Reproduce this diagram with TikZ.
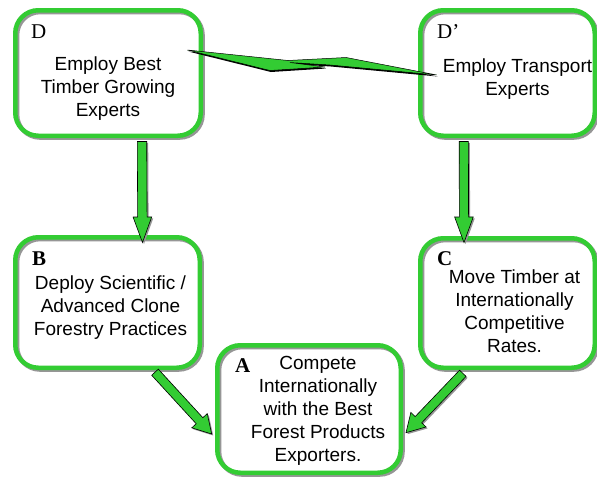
\documentclass[tikz,border=0pt]{standalone}
\usepackage{fontspec}
\setmainfont{Liberation Sans}
\newfontfamily\letterfont{Liberation Serif}
\usetikzlibrary{calc}

\definecolor{leafgreen}{RGB}{51,204,51}
\definecolor{shadegray}{RGB}{150,150,150}

\tikzset{
  boxbody/.style={fill=white, rounded corners=23pt, inner sep=0pt, outer sep=0pt},
  boxshade/.style={draw=shadegray, line width=4.5pt, rounded corners=23pt},
  boxedge/.style={draw=leafgreen, line width=4.5pt, rounded corners=23pt},
  % multi-line texts are anchored at the baseline of their last line
  boxtext/.style={font=\fontsize{19pt}{23pt}\selectfont, align=center, anchor=base, inner sep=0pt},
  lettertag/.style={font=\letterfont\fontsize{21pt}{21pt}\selectfont, anchor=base west, inner sep=0pt},
  boldtag/.style={font=\letterfont\bfseries\fontsize{21pt}{21pt}\selectfont, anchor=base west, inner sep=0pt},
  arrowbody/.style={fill=leafgreen, draw=black, line width=0.6pt, line join=miter},
  arrowshade/.style={fill=shadegray},
  boltbody/.style={fill=leafgreen, draw=black, line width=0.5pt, line join=miter},
}

% rounded box: white body, offset grey shade, green rim
\newcommand\roundbox[4]{% name, centre, width, height
  \node[boxbody, minimum width=#3, minimum height=#4] (#1) at (#2) {};
  \draw[boxshade] ([shift={(1.8pt,-1.8pt)}]#1.north west) rectangle ([shift={(1.8pt,-1.8pt)}]#1.south east);
  \draw[boxedge] (#1.north west) rectangle (#1.south east);
}

% block arrow polygon from #1 to tip #2; shaft half width #3, head half width #4, head length #5
\newcommand\arrowoutline[5]{%
  ($(#1)!#3!90:(#2)$) -- ($($(#2)!#5!(#1)$)!#3!90:(#2)$) -- ($($(#2)!#5!(#1)$)!#4!90:(#2)$) --
  (#2) -- ($($(#2)!#5!(#1)$)!#4!-90:(#2)$) -- ($($(#2)!#5!(#1)$)!#3!-90:(#2)$) --
  ($(#1)!#3!-90:(#2)$) -- cycle}
\newcommand\blockarrow[5]{%
  \begin{scope}[transform canvas={shift={(1.5pt,-1.5pt)}}]
    \fill[arrowshade] \arrowoutline{#1}{#2}{#3}{#4}{#5};
  \end{scope}
  \draw[arrowbody] \arrowoutline{#1}{#2}{#3}{#4}{#5};
}

\begin{document}
\begin{tikzpicture}[x=1pt, y=-1pt]
  \useasboundingbox (0,0) rectangle (597,479);
  \fill[white] (0,0) rectangle (597,479);

  % boxes
  \roundbox{D}{108,73}{185.5pt}{125.5pt}
  \roundbox{Dp}{507.5,73}{174.5pt}{125.5pt}
  \roundbox{B}{107.5,302.5}{184.5pt}{130.5pt}
  \roundbox{C}{507.5,303}{174.5pt}{129.5pt}
  \roundbox{A}{309,409}{183.5pt}{127.5pt}

  % letters
  \node[lettertag] (Dtag) at (31,38) {D};
  \node[lettertag] (Dptag) at (437,38) {D’};
  \node[boldtag] (Btag) at (32,265) {B};
  \node[boldtag] (Ctag) at (437,265) {C};
  \node[boldtag] (Atag) at (235,372) {A};

  % texts
  \node[boxtext] (Dtext) at (108,116) {Employ Best\\Timber Growing\\Experts};
  \node[boxtext] (Dptext) at (517.5,95.5) {Employ Transport\\Experts};
  \node[boxtext] (Btext) at (110.5,335) {Deploy Scientific /\\Advanced Clone\\Forestry Practices};
  \node[boxtext] (Ctext) at (514.5,352) {Move Timber at\\Internationally\\Competitive\\Rates.};
  \node[boxtext] (Atext) at (318,461) {Compete\\Internationally\\with the Best\\Forest Products\\Exporters.};

  % arrow ends
  \coordinate (DB1) at (142,141.5);
  \coordinate (DB2) at (142.5,242.5);
  \coordinate (DC1) at (463.8,141.5);
  \coordinate (DC2) at (464,242.5);
  \coordinate (BA1) at (155,372.2);
  \coordinate (BA2) at (211.7,434);
  \coordinate (CA1) at (462.8,373.3);
  \coordinate (CA2) at (406,432.7);

  \blockarrow{DB1}{DB2}{4.7pt}{9.3pt}{25.5pt}
  \blockarrow{DC1}{DC2}{4.6pt}{9.3pt}{25.5pt}
  \blockarrow{BA1}{BA2}{4.5pt}{10.5pt}{18pt}
  \blockarrow{CA1}{CA2}{4.5pt}{10.5pt}{18pt}

  % lightning link between D and D'
  \coordinate (L1) at (187.3,50);
  \coordinate (L5) at (436.7,75);
  \fill[black, transform canvas={shift={(1pt,-1.5pt)}}]
    (L1) -- (288,60.5) -- (346,57.5) -- (L5) -- (330,65) -- (290,62.5) -- (325,67) -- (270,70.5) -- cycle;
  \draw[boltbody]
    (L1) -- (288,60.5) -- (346,57.5) -- (L5) -- (330,65) -- (290,62.5) -- (325,67) -- (270,70.5) -- cycle;
\end{tikzpicture}
\end{document}
